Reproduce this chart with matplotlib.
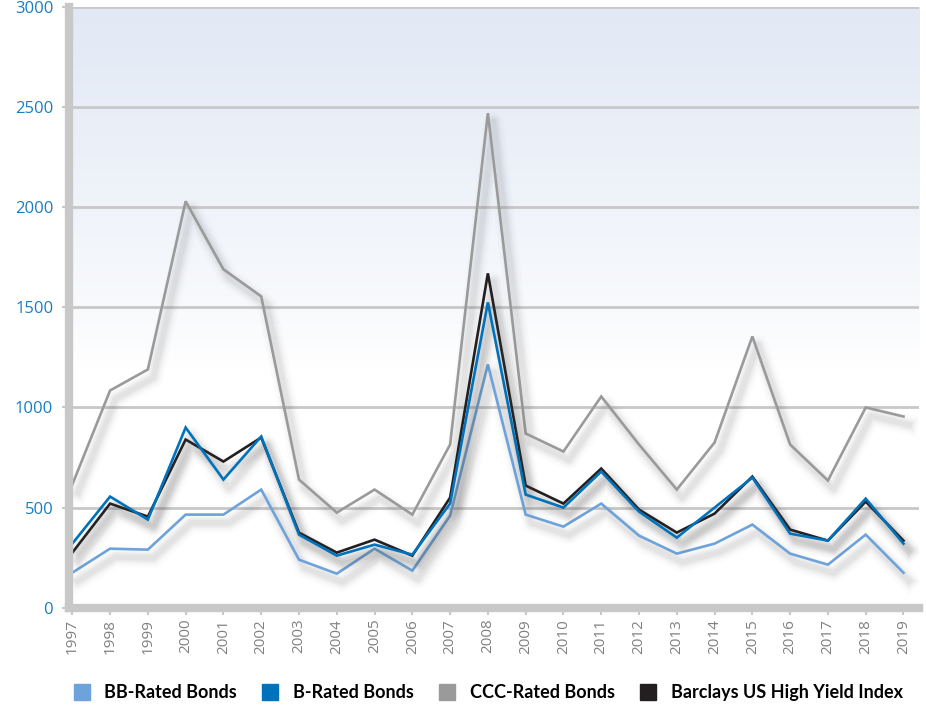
import matplotlib.pyplot as plt
import matplotlib.patheffects as pe
from matplotlib.lines import Line2D
import numpy as np

# Дані
years = list(range(1997, 2020))
bb = [175, 295, 290, 465, 465, 590, 240, 170, 295, 185, 460, 1215,
      465, 405, 520, 360, 270, 320, 415, 270, 215, 365, 175]
b_rated = [320, 555, 440, 900, 640, 855, 365, 260, 315, 265, 520, 1525,
           565, 500, 680, 480, 350, 500, 650, 370, 335, 545, 320]
ccc = [615, 1085, 1190, 2030, 1690, 1555, 640, 475, 590, 465, 815, 2470,
       870, 780, 1055, 815, 590, 825, 1355, 815, 635, 1000, 955]
barclays = [275, 520, 455, 840, 730, 850, 375, 275, 340, 260, 550, 1670,
            610, 520, 695, 490, 375, 470, 655, 390, 335, 530, 335]

labels = ['BB-Rated Bonds', 'B-Rated Bonds', 'CCC-Rated Bonds',
          'Barclays US High Yield Index']
colors = ['#6da3da', '#0072bc', '#9a9a9a', '#231f20']

fig = plt.figure(figsize=(9.26, 7.05), dpi=100)
ax = fig.add_axes([0.074, 0.138, 0.918, 0.852])

ax.set_xlim(1996.9, 2019.4)
ax.set_ylim(0, 3000)

# градієнтний фон
grad = np.linspace(0, 1, 256).reshape(-1, 1)
grad = np.clip((grad - 0.4) / 0.6, 0, 1) ** 0.8
top = np.array([0.886, 0.914, 0.961])
bottom = np.array([1.0, 1.0, 1.0])
img = bottom + (top - bottom) * grad[..., None]
ax.imshow(img, extent=[1996.9, 2019.4, 0, 3000], origin='lower',
          aspect='auto', zorder=0)

# сітка
for v in range(500, 3001, 500):
    ax.axhline(v, color='#c8c8c8', linewidth=2, zorder=1)

# тіні
def shadow():
    fx = []
    for lw, a in [(14, 0.025), (10, 0.035), (7, 0.05), (4, 0.06)]:
        fx.append(pe.SimpleLineShadow(offset=(4, -6), shadow_color='#555555',
                                      alpha=a, linewidth=lw, joinstyle='round'))
    fx.append(pe.Normal())
    return fx

series = [(ccc, colors[2]), (bb, colors[0]), (barclays, colors[3]),
          (b_rated, colors[1])]
for i, (vals, c) in enumerate(series):
    ax.plot(years, vals, color=c, linewidth=1.9, zorder=3 + i,
            path_effects=shadow(), solid_joinstyle='miter')

# осі
for s in ['top', 'right']:
    ax.spines[s].set_visible(False)
ax.spines['left'].set_color('#c8c8c8')
ax.spines['left'].set_linewidth(6)
ax.spines['bottom'].set_color('#c8c8c8')
ax.spines['bottom'].set_linewidth(6)
ax.spines['left'].set_zorder(10)
ax.spines['bottom'].set_zorder(10)

ax.set_yticks(range(0, 3001, 500))
ax.tick_params(axis='y', colors='#c8c8c8', labelcolor='#1a7dc4',
               labelsize=12, length=5, width=1.5, pad=6)
ax.set_xticks(years)
ax.set_xticklabels([str(y) for y in years], rotation=90)
ax.tick_params(axis='x', colors='#c8c8c8', labelcolor='#808080',
               labelsize=11, length=5, width=1.5, pad=3)
for t in ax.get_yticklabels() + ax.get_xticklabels():
    t.set_fontfamily('Open Sans')

# легенда
handles = [Line2D([], [], marker='s', linestyle='none', markersize=12,
                  markerfacecolor=c, markeredgecolor=c) for c in colors]
fig.legend(handles, labels, loc='lower center', bbox_to_anchor=(0.527, -0.018),
           ncol=4, frameon=False, handlelength=0.9, handletextpad=0.8,
           columnspacing=1.4,
           prop={'family': 'Lato', 'weight': 'bold', 'size': 13})

fig.savefig('out.png', dpi=100)
